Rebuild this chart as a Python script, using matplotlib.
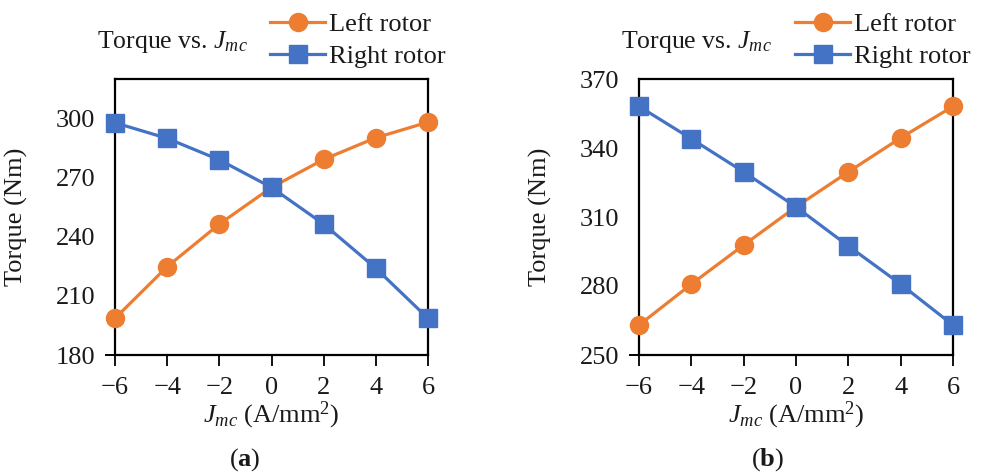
import matplotlib
matplotlib.use("Agg")
import matplotlib.pyplot as plt

plt.rcParams['font.family'] = ['Liberation Serif', 'DejaVu Serif']
plt.rcParams['mathtext.fontset'] = 'custom'
plt.rcParams['mathtext.rm'] = 'Liberation Serif'
plt.rcParams['mathtext.it'] = 'Liberation Serif:italic'
plt.rcParams['mathtext.bf'] = 'Liberation Serif:bold'

jmc = [-6, -4, -2, 0, 2, 4, 6]
xticks = [-6, -4, -2, 0, 2, 4, 6]
xticklabels = ['\u22126', '\u22124', '\u22122', '0', '2', '4', '6']

left_a = [198.6, 224.8, 246.4, 265.0, 279.2, 290.2, 298.1]
right_a = [297.8, 289.9, 279.0, 265.0, 246.4, 224.0, 198.6]
yticks_a = [180, 210, 240, 270, 300]

left_b = [263.0, 280.8, 297.8, 314.4, 329.6, 344.4, 358.1]
right_b = [358.1, 344.0, 329.6, 314.4, 297.4, 280.8, 263.0]
yticks_b = [250, 280, 310, 340, 370]

orange = '#ED7D31'
blue = '#4472C4'
txt = '#1a1a1a'

W, H = 981, 474
fig = plt.figure(figsize=(W / 100, H / 100), dpi=100)

panels = [
    dict(rect=(115, 79, 428, 355), left=left_a, right=right_a, yt=yticks_a,
         ylim=(180, 320), cap='a', cx=245, titlex=97, legx=270, ylabx=28),
    dict(rect=(639, 79, 953, 355), left=left_b, right=right_b, yt=yticks_b,
         ylim=(250, 370), cap='b', cx=768, titlex=621, legx=795, ylabx=552),
]

FS = 19

for p in panels:
    x0, y0, x1, y1 = p['rect']
    ax = fig.add_axes([x0 / W, 1 - y1 / H, (x1 - x0) / W, (y1 - y0) / H])
    l1, = ax.plot(jmc, p['left'], color=orange, lw=2.3, marker='o', ms=13,
                  label='Left rotor', clip_on=False, zorder=3)
    l2, = ax.plot(jmc, p['right'], color=blue, lw=2.3, marker='s', ms=12.5,
                  label='Right rotor', clip_on=False, zorder=4)
    ax.set_xlim(-6, 6)
    ax.set_ylim(*p['ylim'])
    ax.set_xticks(xticks)
    ax.set_xticklabels(xticklabels)
    ax.set_yticks(p['yt'])
    for s in ax.spines.values():
        s.set_linewidth(1.6)
        s.set_color('black')
    ax.tick_params(axis='x', direction='out', length=8, width=1.3,
                   labelsize=FS, pad=8, colors='black', labelcolor=txt)
    ax.tick_params(axis='y', direction='out', length=0,
                   labelsize=FS, pad=14, colors='black', labelcolor=txt)
    # short extension of the bottom axis line to the left
    ext = plt.Line2D([x0 - 9, x0], [H - y1, H - y1], color='black', lw=1.4,
                     transform=None)
    fig.add_artist(ext)
    ax.set_xlabel(r'$J_{mc}$ (A/mm$^2$)', fontsize=FS, labelpad=0, color=txt)
    ax.set_ylabel('Torque (Nm)', fontsize=FS, color=txt)
    ax.yaxis.set_label_coords((p['ylabx'] - x0) / (x1 - x0), 0.5)
    fig.text(p['titlex'] / W, 1 - 42 / H, r'Torque vs. $J_{mc}$', fontsize=18.5,
             ha='left', va='center', color=txt)
    fig.legend(handles=[l1, l2], loc='upper left',
               bbox_to_anchor=(p['legx'] / W, 1 - 13 / H), frameon=False,
               fontsize=FS, handlelength=2.1, handletextpad=0.12,
               borderpad=0, borderaxespad=0, labelspacing=0.3,
               labelcolor=txt)
    fig.text(p['cx'] / W, 1 - 460 / H, r'($\mathbf{' + p['cap'] + r'}$)',
             fontsize=FS, ha='center', va='center', color=txt)

fig.savefig('out.png', dpi=100)
